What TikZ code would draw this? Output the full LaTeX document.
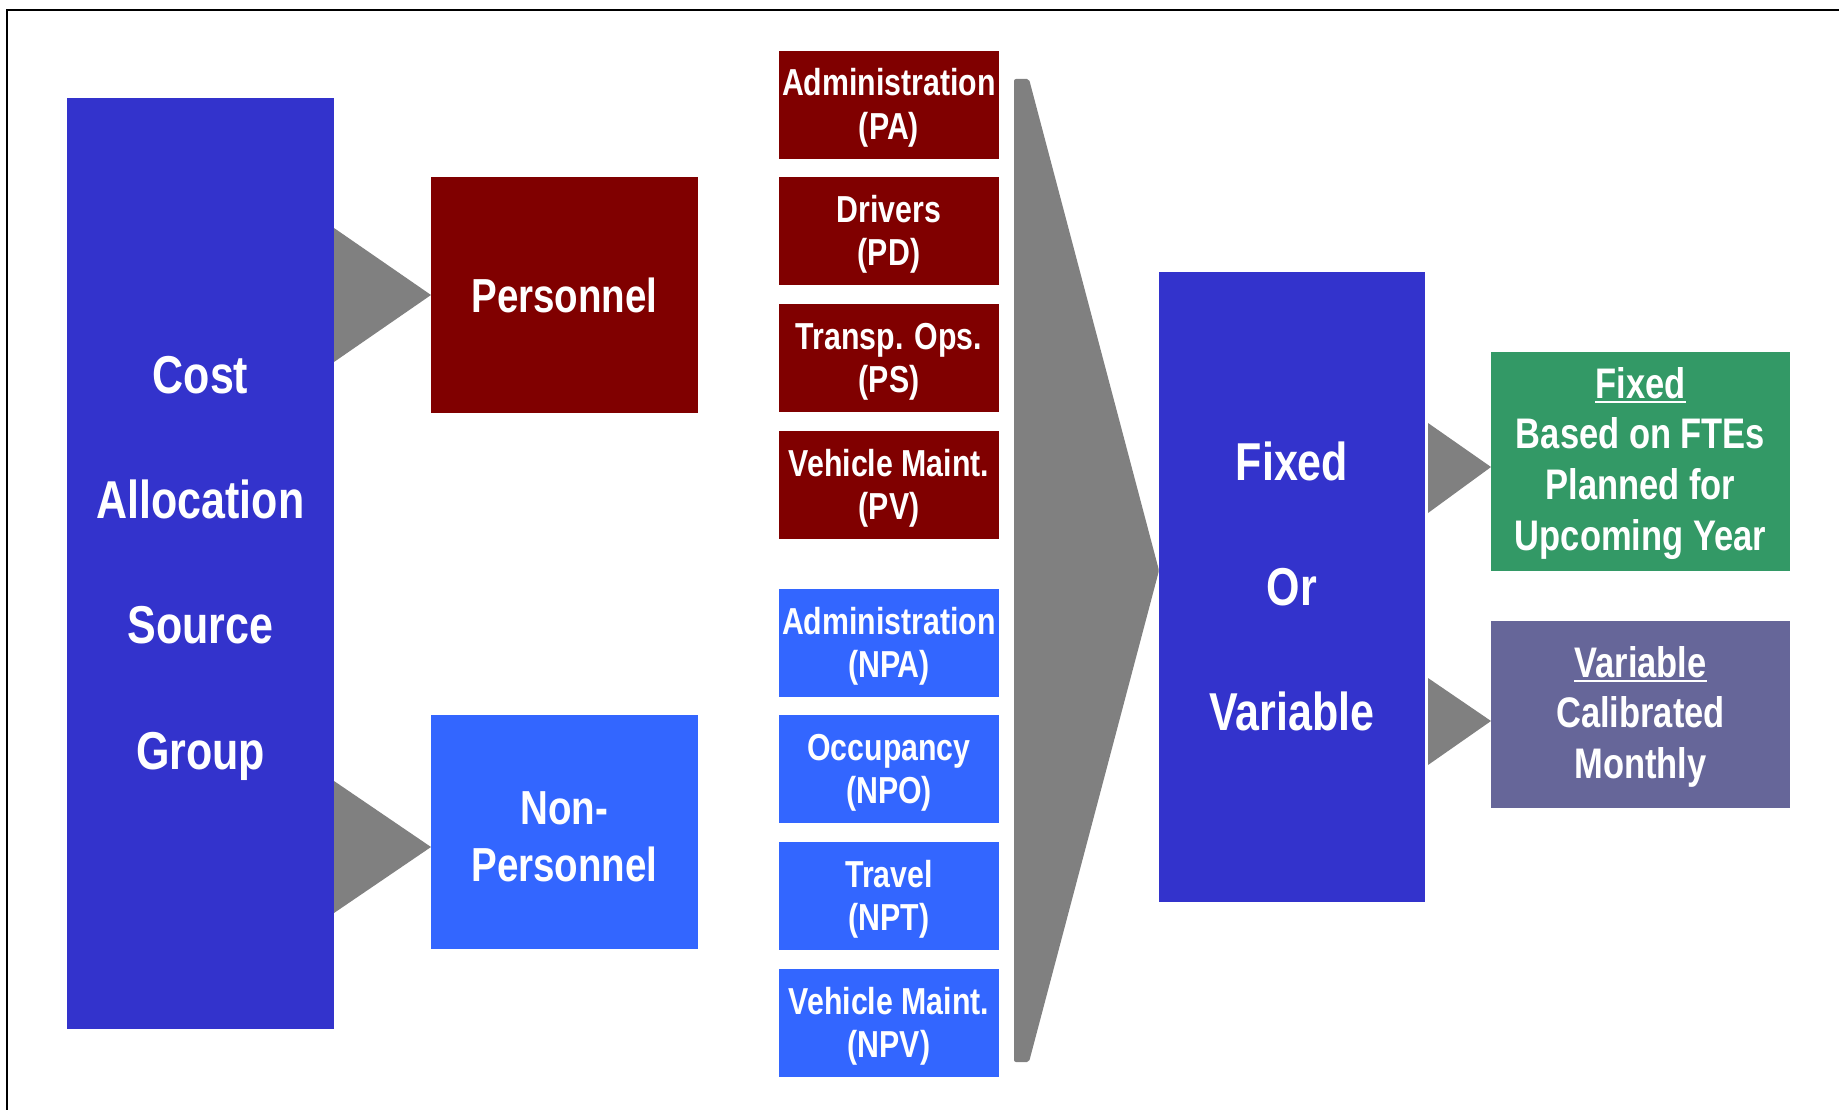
\documentclass[tikz,border=0pt]{standalone}
\usepackage{fontspec}
\setmainfont{Liberation Sans}
\usepackage{graphicx}
\definecolor{cblue}{HTML}{3333CC}
\definecolor{cred}{HTML}{800000}
\definecolor{lblue}{HTML}{3366FF}
\definecolor{cgreen}{HTML}{339966}
\definecolor{cpurple}{HTML}{666699}
\definecolor{cgray}{HTML}{808080}
\newcommand{\boxtext}[2]{\raisebox{#1}[0pt][0pt]{\scalebox{1}[1.24]{\begin{tabular}[t]{@{}c@{}}#2\end{tabular}}}}
\newsavebox\ulbox
\newcommand{\headul}[1]{\sbox\ulbox{#1}\rlap{\rule[-4.2pt]{\wd\ulbox}{1.6pt}}\usebox\ulbox}
\tikzset{
  box/.style={rectangle, inner sep=0pt, outer sep=0pt, text=white},
  bigbox/.style={box, fill=cblue, font=\bfseries\fontsize{43}{101.2}\selectfont},
  midbox/.style={box, minimum width=267pt, font=\bfseries\fontsize{38.5}{46}\selectfont},
  itembox/.style={box, minimum width=220pt, minimum height=108pt, font=\bfseries\fontsize{30.3}{34.7}\selectfont},
  pitem/.style={itembox, fill=cred},
  nitem/.style={itembox, fill=lblue},
  sidebox/.style={box, minimum width=299pt, font=\bfseries\fontsize{34.5}{40.9}\selectfont},
  pointer/.style={fill=cgray},
  frameline/.style={draw=black, line width=2pt}
}
\begin{document}
\begin{tikzpicture}[x=1pt,y=-1pt]
\useasboundingbox (0,0) rectangle (1839,1110);
\fill[white] (0,0) rectangle (1839,1110);
\draw[frameline] (6.8,1110) -- (6.8,10) -- (1839,10);

\node[bigbox, minimum width=267pt, minimum height=931pt] (cost) at (200.5,563.5)
  {\boxtext{170.5pt}{Cost\\Allocation\\Source\\Group}};
\node[midbox, fill=cred, minimum height=236pt] (pers) at (564.5,295)
  {\boxtext{-17pt}{Personnel}};
\node[midbox, fill=lblue, minimum height=234pt] (nonpers) at (564.5,832)
  {\boxtext{8pt}{Non-\\Personnel}};

\node[pitem] (pa) at (889,105) {\boxtext{9pt}{Administration\\(PA)}};
\node[pitem] (pd) at (889,231) {\boxtext{9pt}{Drivers\\(PD)}};
\node[pitem] (ps) at (889,358) {\boxtext{9pt}{Transp. Ops.\\(PS)}};
\node[pitem] (pv) at (889,485) {\boxtext{9pt}{Vehicle Maint.\\(PV)}};
\node[nitem] (npa) at (889,643) {\boxtext{9pt}{Administration\\(NPA)}};
\node[nitem] (npo) at (889,769) {\boxtext{9pt}{Occupancy\\(NPO)}};
\node[nitem] (npt) at (889,896) {\boxtext{9pt}{Travel\\(NPT)}};
\node[nitem] (npv) at (889,1023) {\boxtext{9pt}{Vehicle Maint.\\(NPV)}};

\node[bigbox, minimum width=266pt, minimum height=630pt] (fv) at (1292,587)
  {\boxtext{107pt}{Fixed\\Or\\Variable}};
\node[sidebox, fill=cgreen, minimum height=219pt] (fixed) at (1640.5,461.5)
  {\boxtext{63.5pt}{\headul{Fixed}\\Based on FTEs\\Planned for\\Upcoming Year}};
\node[sidebox, fill=cpurple, minimum height=187pt] (var) at (1640.5,714.5)
  {\boxtext{37.5pt}{\headul{Variable}\\Calibrated\\Monthly}};

% pointers
\fill[pointer] (pers.west) -- ([yshift=67pt]pers.west -| cost.east)
  -- ([yshift=-67pt]pers.west -| cost.east) -- cycle;
\fill[pointer] ([yshift=-15pt]nonpers.west) -- ([yshift=51pt]nonpers.west -| cost.east)
  -- ([yshift=-81pt]nonpers.west -| cost.east) -- cycle;
\fill[pointer] ([yshift=-5.5pt]fixed.west) -- ([xshift=3pt,yshift=38.5pt]fixed.west -| fv.east)
  -- ([xshift=3pt,yshift=-51.5pt]fixed.west -| fv.east) -- cycle;
\fill[pointer] ([yshift=-6.5pt]var.west) -- ([xshift=3pt,yshift=36.5pt]var.west -| fv.east)
  -- ([xshift=3pt,yshift=-50.5pt]var.west -| fv.east) -- cycle;

% funnel
\coordinate (f1) at (1014,79);
\coordinate (f2) at (1029,79);
\coordinate (f4) at (1029,1062);
\coordinate (f5) at (1014,1062);
\fill[pointer, rounded corners=2pt] (f1) -- (f2) -- ([yshift=16.5pt]fv.west) -- (f4) -- (f5) -- cycle;
\end{tikzpicture}
\end{document}
